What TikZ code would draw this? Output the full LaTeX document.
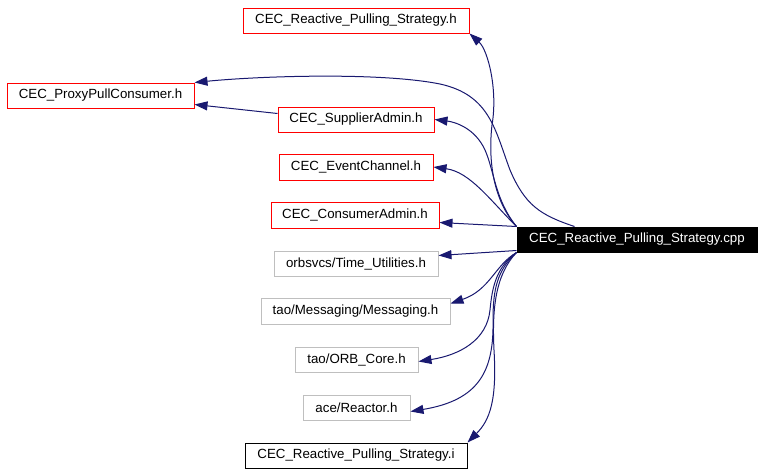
\documentclass[tikz,border=0pt]{standalone}
\usepackage{fontspec}
\setmainfont{Liberation Sans}
\usetikzlibrary{arrows.meta}
\definecolor{edgeblue}{RGB}{25,25,112}
\definecolor{grayline}{RGB}{191,191,191}
\tikzset{
  basebox/.style={draw, line width=1pt, inner sep=0pt, minimum height=25pt, font=\fontsize{13.3pt}{15pt}\selectfont, text=black},
  redbox/.style={basebox, draw=red},
  graybox/.style={basebox, draw=grayline},
  blackbox/.style={basebox, draw=black},
  mainbox/.style={basebox, draw=black, fill=black, text=white},
  edge/.style={draw=edgeblue, line width=1pt, -{Triangle[length=13pt,width=9pt]}, fill=none},
}
\begin{document}
\begin{tikzpicture}[x=1pt,y=-1pt]
\useasboundingbox (0,0) rectangle (764,474);
\node[redbox, minimum width=226pt] (h) at (356,20.5) {CEC\_Reactive\_Pulling\_Strategy.h};
\node[redbox, minimum width=187pt] (proxy) at (100.5,95.5) {CEC\_ProxyPullConsumer.h};
\node[redbox, minimum width=156pt] (sa) at (356,119.5) {CEC\_SupplierAdmin.h};
\node[redbox, minimum width=154pt, minimum height=26pt] (ec) at (356,167) {CEC\_EventChannel.h};
\node[redbox, minimum width=168pt, minimum height=26pt] (ca) at (355,215) {CEC\_ConsumerAdmin.h};
\node[graybox, minimum width=164pt] (tu) at (356,263.5) {orbsvcs/Time\_Utilities.h};
\node[graybox, minimum width=189pt, minimum height=26pt] (msg) at (355.5,311) {tao/Messaging/Messaging.h};
\node[graybox, minimum width=123pt] (orb) at (356.5,359.5) {tao/ORB\_Core.h};
\node[graybox, minimum width=107pt] (rea) at (356.5,407.5) {ace/Reactor.h};
\node[blackbox, minimum width=222pt] (inl) at (356,455.5) {CEC\_Reactive\_Pulling\_Strategy.i};
\node[mainbox, minimum width=240pt] (cpp) at (637,239.5) {CEC\_Reactive\_Pulling\_Strategy.cpp};

\draw[edge] (cpp.north west) .. controls (493,200) and (488,160) .. (492,125) .. controls (498,90) and (488,50) .. (h.south east);
\draw[edge] ([xshift=58pt]cpp.north west) .. controls (540,215) and (525,205) .. (510,170) .. controls (495,130) and (490,95) .. (440,84) .. controls (380,72) and (260,76) .. (proxy.north east);
\draw[edge] (cpp.north west) .. controls (495,200) and (494,170) .. (485,150) .. controls (475,128) and (455,122) .. (sa.east);
\draw[edge] (sa.west) ++(0,-6) coordinate (saw) (saw) -- ([yshift=-9pt]proxy.east);
\draw[edge] (cpp.north west) .. controls (490,200) and (470,172) .. (ec.east);
\draw[edge] (cpp.north west) -- ([yshift=6pt]ca.south east);
\draw[edge] ([yshift=2pt]cpp.south west) -- ([yshift=8pt]tu.east);
\draw[edge] (cpp.south west) .. controls (495,265) and (490,290) .. ([yshift=-6pt]msg.north east);
\draw[edge] (cpp.south west) .. controls (495,268) and (492,290) .. (490,310) .. controls (487,340) and (460,355) .. ([yshift=-2pt]orb.east);
\draw[edge] (cpp.south west) .. controls (497,270) and (493,290) .. (493,320) .. controls (494,370) and (480,400) .. ([yshift=-4pt]rea.east);
\draw[edge] (cpp.south west) .. controls (495,275) and (492,310) .. (494,350) .. controls (497,400) and (490,420) .. (inl.north east);
\end{tikzpicture}
\end{document}
